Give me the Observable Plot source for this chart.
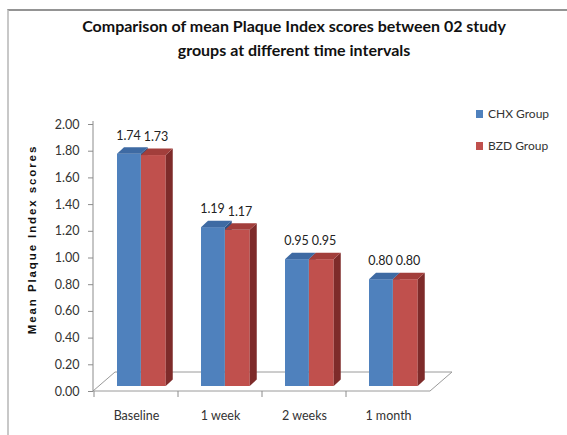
<!DOCTYPE html>
<html><head><meta charset="utf-8">
<script src="https://cdn.jsdelivr.net/npm/d3@7"></script>
<script src="https://cdn.jsdelivr.net/npm/@observablehq/plot@0.6"></script>
<style>
html,body{margin:0;padding:0;background:#fff;overflow:hidden;}
#wrap{position:relative;width:567px;height:435px;overflow:hidden;font-family:Lato,"Open Sans",sans-serif;background:#fff;}
#title{position:absolute;left:0;top:14px;width:588px;text-align:center;font:bold 16px Lato,sans-serif;line-height:24px;color:#111;}
#chart{position:absolute;left:0;top:0;}
#frame{position:absolute;left:7px;top:9px;width:580px;height:450px;border-left:2px solid #c8c8c8;border-top:2px solid #949494;z-index:5;pointer-events:none;box-sizing:border-box;}
.leg{position:absolute;left:476px;font:12px Lato,sans-serif;color:#333;height:16px;line-height:16px;}
.leg span.sw{display:inline-block;width:7px;height:8px;margin-right:5px;}
</style>
</head><body>
<div id="wrap">
  <div id="chart"></div>
  <div id="title">Comparison of mean Plaque Index scores between 02 study<br>groups at different time intervals</div>
  <div id="legend"></div>
  <div id="frame"></div>
</div>
<script>
const categories = ["Baseline", "1 week", "2 weeks", "1 month"];
const chxValues = [1.74, 1.19, 0.95, 0.80];
const bzdValues = [1.73, 1.17, 0.95, 0.80];
const groups = ["CHX Group", "BZD Group"];
const groupColors = ["#4F81BD", "#C0504D"];
const yTicks = [0, 0.2, 0.4, 0.6, 0.8, 1.0, 1.2, 1.4, 1.6, 1.8, 2.0];
const yTitle = "Mean Plaque Index scores";

const chxRows = categories.map((c, i) => ({time: c, group: groups[0], value: chxValues[i]}));
const bzdRows = categories.map((c, i) => ({time: c, group: groups[1], value: bzdValues[i]}));

const NS = "http://www.w3.org/2000/svg";
function extrude(topFill, sideFill, D, E) {
  return (index, scales, values, dimensions, context, next) => {
    const g = next(index, scales, values, dimensions, context);
    const rects = Array.from(g.querySelectorAll("rect"));
    for (const r of rects) {
      const x = +r.getAttribute("x"), y = +r.getAttribute("y");
      const w = +r.getAttribute("width"), h = +r.getAttribute("height");
      const side = document.createElementNS(NS, "polygon");
      side.setAttribute("points", `${x+w},${y} ${x+w+D},${y-E} ${x+w+D},${y+h-E} ${x+w},${y+h}`);
      side.setAttribute("fill", sideFill);
      const top = document.createElementNS(NS, "polygon");
      top.setAttribute("points", `${x},${y} ${x+D},${y-E} ${x+w+D},${y-E} ${x+w},${y}`);
      top.setAttribute("fill", topFill);
      r.parentNode.appendChild(side);
      r.parentNode.appendChild(top);
    }
    return g;
  };
}

function floor(index, scales, values, dimensions) {
  const {width, height, marginLeft, marginRight, marginTop, marginBottom} = dimensions;
  const x0 = marginLeft, x1 = width - marginRight, y0 = height - marginBottom;
  const FD = 22, FE = 19;
  const g = d3.create("svg:g");
  g.append("polygon")
    .attr("points", `${x0},${y0} ${x0+FD},${y0-FE} ${x1+FD},${y0-FE} ${x1},${y0}`)
    .attr("fill", "#fff").attr("stroke", "#9a9a9a").attr("stroke-width", 1);
  g.append("line").attr("x1", x0).attr("x2", x0).attr("y1", marginTop - 3).attr("y2", y0)
    .attr("stroke", "#8c8c8c");
  const bw = scales.x && scales.x.bandwidth ? scales.x.bandwidth : (x1 - x0) / categories.length;
  const xs = categories.map(c => scales.x(c)).concat([scales.x(categories[categories.length-1]) + bw]);
  for (const xv of xs) {
    if (!isFinite(xv)) continue;
    g.append("line").attr("x1", xv).attr("x2", xv).attr("y1", y0).attr("y2", y0 + 6).attr("stroke", "#8c8c8c");
  }
  return g.node();
}

const plot = Plot.plot({
  width: 567,
  height: 435,
  marginLeft: 93,
  marginRight: 137,
  marginTop: 124,
  marginBottom: 44,
  style: {background: "transparent", fontFamily: "Lato, sans-serif", fontSize: "12.5px", color: "#333"},
  x: {domain: categories, padding: 0},
  y: {domain: [0, 2]},
  marks: [
    floor,
    Plot.axisY({ticks: yTicks, tickFormat: d => d.toFixed(2), tickSize: 5, tickPadding: 9, label: null, stroke: "#8c8c8c", fill: "#333"}),
    Plot.axisX({tickSize: 0, tickPadding: 20, label: null, fill: "#333"}),
    Plot.barY(chxRows, {x: "time", y: "value", fill: groupColors[0], insetLeft: 23, insetRight: 37.25, dy: -5,
      render: extrude("#3E6AA3", "#2E5283", 7, 6.5)}),
    Plot.barY(bzdRows, {x: "time", y: "value", fill: groupColors[1], insetLeft: 47, insetRight: 12.25, dy: -5,
      render: extrude("#A23E3B", "#7E2B2A", 7, 6.5)}),
    Plot.text(chxRows, {x: "time", y: "value", text: d => d.value.toFixed(2), dx: -8, dy: -23.5, lineAnchor: "middle", fill: "#222", fontSize: 12.5}),
    Plot.text(bzdRows, {x: "time", y: "value", text: d => d.value.toFixed(2), dx: 19.5, dy: -23.5, lineAnchor: "middle", fill: "#222", fontSize: 12.5}),
    Plot.text([yTitle], {frameAnchor: "left", textAnchor: "middle", text: d => d, rotate: -90, dx: -61, dy: -18.5, fontWeight: "bold",
      fontFamily: "Liberation Sans, Arial, sans-serif", fontSize: 11.5, fill: "#111"})
  ]
});
plot.querySelectorAll("text").forEach(t => {
  if (t.textContent === yTitle) t.style.letterSpacing = "1.9px";
});
document.getElementById("chart").appendChild(plot);

const legend = document.getElementById("legend");
const legendTops = [106, 138];
groups.forEach((g, i) => {
  const d = document.createElement("div");
  d.className = "leg";
  d.style.top = legendTops[i] + "px";
  const sw = document.createElement("span");
  sw.className = "sw";
  sw.style.background = groupColors[i];
  d.appendChild(sw);
  d.appendChild(document.createTextNode(g));
  legend.appendChild(d);
});
</script>
</body></html>
